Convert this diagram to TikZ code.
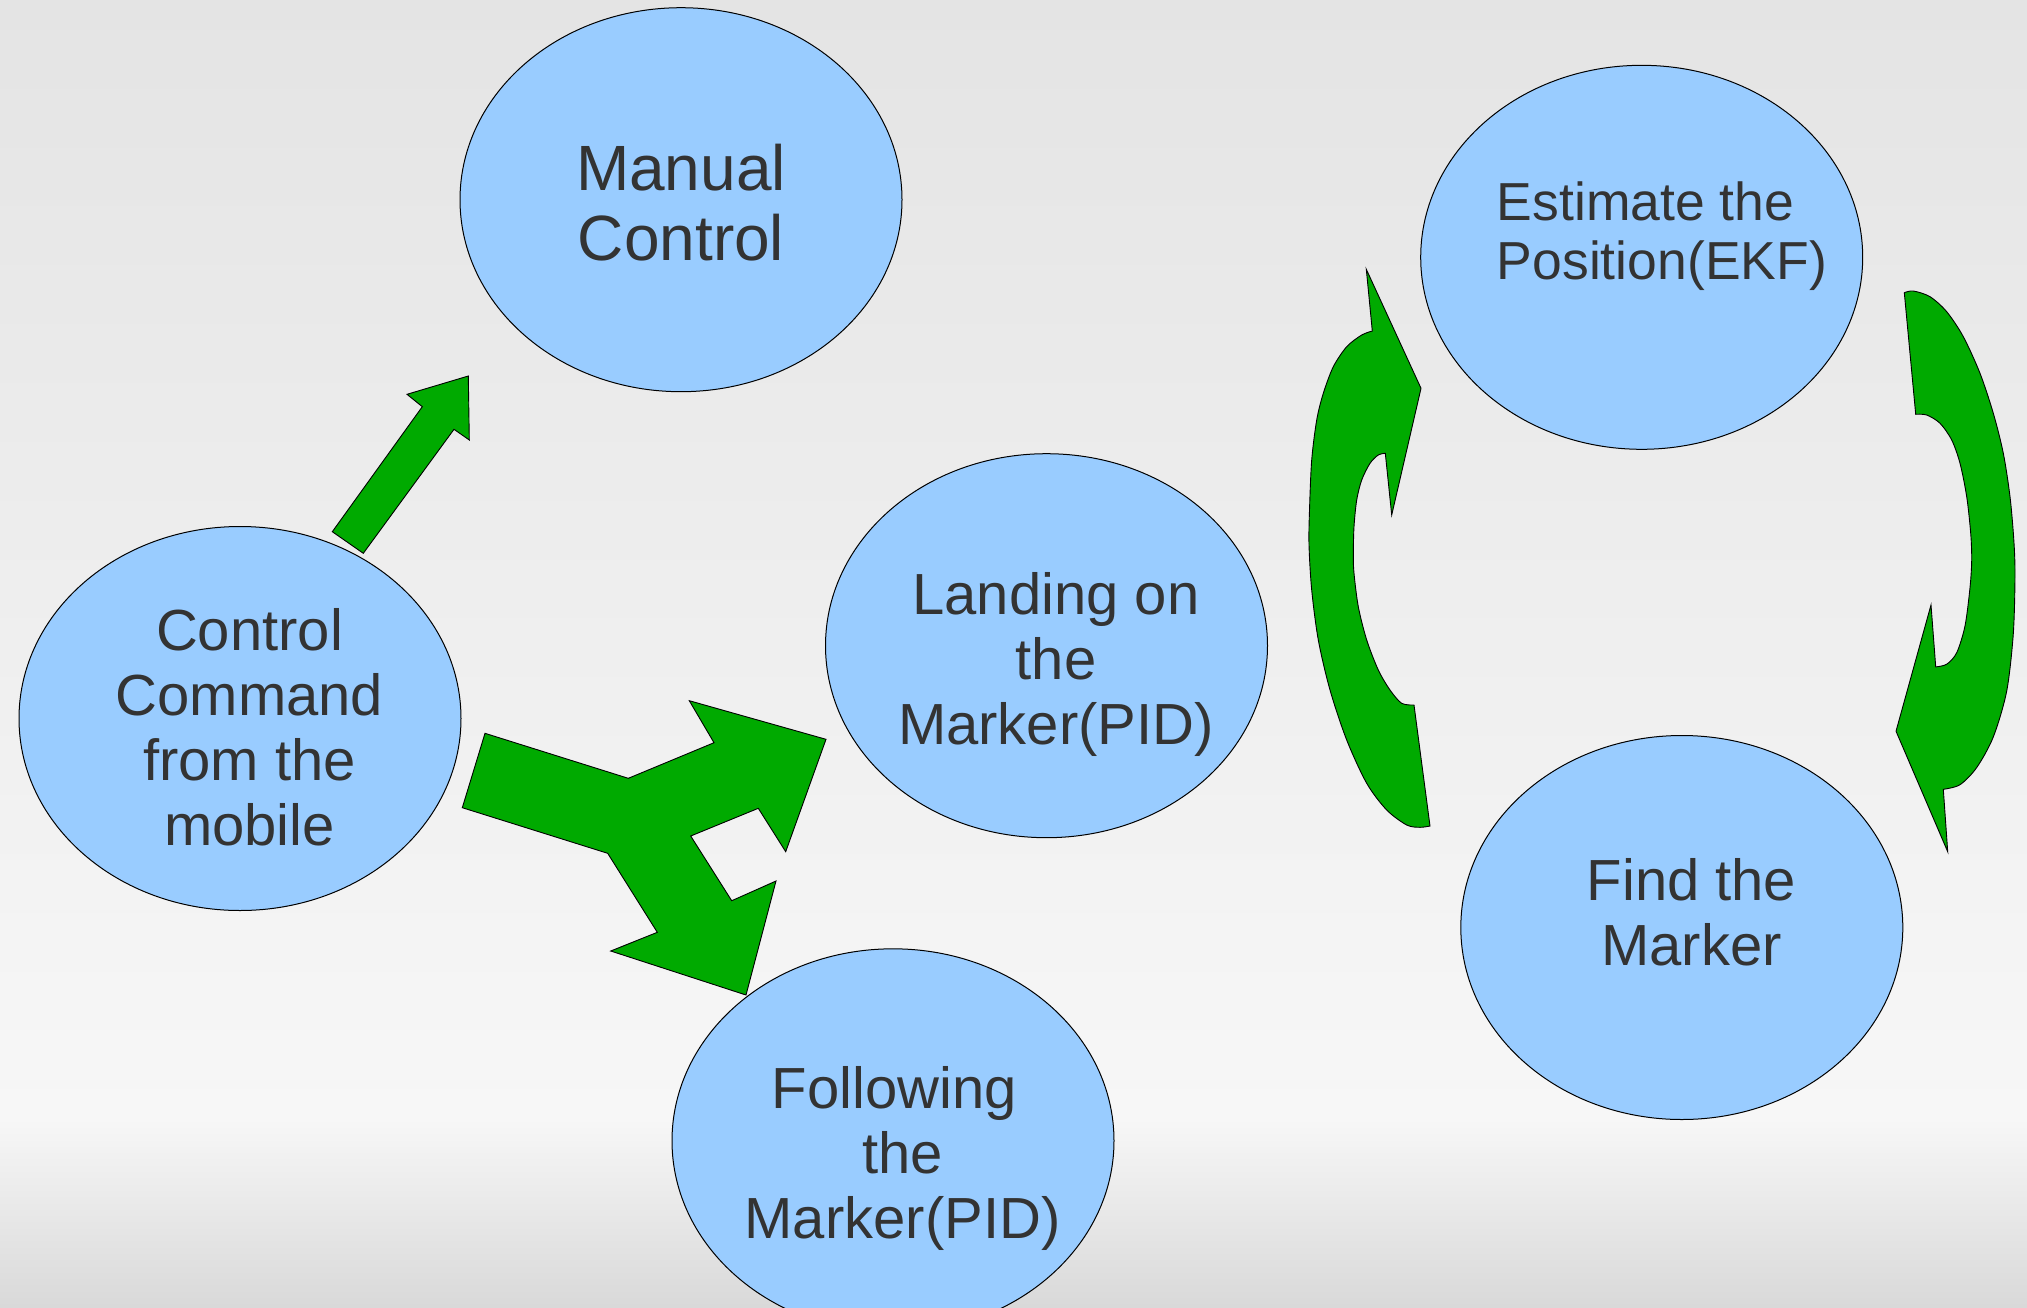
\documentclass[tikz,border=0pt]{standalone}
\usepackage{fontspec}
\setmainfont{Liberation Sans}
\usetikzlibrary{shapes.geometric,calc}
\definecolor{bubble}{HTML}{99CCFF}
\definecolor{flow}{HTML}{00AA00}
\definecolor{ink}{HTML}{333333}
\definecolor{bgtop}{HTML}{E4E4E4}
\definecolor{bgmid}{HTML}{F7F7F7}
\definecolor{bgbot}{HTML}{D9D9D9}
\begin{document}
\begin{tikzpicture}[x=1pt,y=-1pt,
  stage/.style={ellipse, draw=black, line width=1pt, fill=bubble,
    minimum width=442pt, minimum height=384pt, inner sep=0pt},
  lbl/.style={text=ink, align=center, inner sep=0pt,
    font=\fontsize{58}{65}\selectfont},
  blockarrow/.style={fill=flow, draw=black, line width=0.9pt, line join=miter}]
\useasboundingbox (0,0) rectangle (2027,1307);

% background
\shade[top color=bgtop, bottom color=bgmid] (0,0) rectangle (2027,1118);
\shade[top color=bgmid, bottom color=bgbot] (0,1118) rectangle (2027,1307);

% stages
\node[stage] (manual)    at (681,199.7)   {};
\node[stage] (command)   at (240,718.5)   {};
\node[stage] (landing)   at (1046.5,645.7){};
\node[stage] (following) at (893,1140.8)  {};
\node[stage] (estimate)  at (1641.7,257.3){};
\node[stage] (find)      at (1681.8,927.5){};

% labels
\node[lbl, font=\fontsize{64}{70}\selectfont] (manuallbl) at ($(manual)+(0,3.3)$) {Manual\\Control};
\node[lbl] (commandlbl) at ($(command)+(9.5,8.5)$) {Control\\Command\\from the\\mobile};
\node[lbl] (landinglbl) at ($(landing)+(9.5,18.3)$) {Landing on\\the\\Marker(PID)};
\node[lbl] (followinglbl) at ($(following)+(9.5,17.7)$) {Following\kern0.278em\\the\\Marker(PID)};
\node[lbl, align=left, anchor=west, font=\fontsize{53.5}{59}\selectfont] (estimatelbl)
  at ($(estimate)+(-145,-21.3)$) {Estimate the\\Position(EKF)};
\node[lbl] (findlbl) at ($(find)+(9.7,-15.5)$) {Find the\\Marker};

% straight arrow towards manual control
\filldraw[blockarrow] (332.3,531.7) -- (363.3,553.3) -- (454,429.3) -- (469.3,440)
  -- (468.3,376) -- (407,394.3) -- (422.3,406.7) -- cycle;

% split arrow towards landing and following
\filldraw[blockarrow] (485,733.3) -- (628.3,778.3) -- (714,742.7) -- (689.3,700.7)
  -- (826,739.3) -- (785.7,851.7) -- (758.3,808.3) -- (690.7,836) -- (731.7,900.7)
  -- (776,881) -- (746,995) -- (610.7,951) -- (657.3,932.3) -- (607.7,853.3)
  -- (462.3,807.7) -- cycle;

% curved arrow going up on the left of the loop
\filldraw[blockarrow] (1366.3,269.3) -- (1421,388.3) -- (1391.7,515)
  -- plot[smooth] coordinates {(1385.3,453.3) (1378.3,455) (1370,463.3)
     (1361.7,480) (1356.7,500) (1354,526.7) (1353.3,555) (1354,573.3)
     (1358.3,606.7) (1366.7,640) (1378.3,670) (1390,690) (1401.7,703.3)
     (1414,705)}
  -- plot[smooth] coordinates {(1430,826) (1420,827.3) (1406.7,825)
     (1386.7,810) (1366.7,783.3) (1346.7,740) (1330,690) (1318.3,640)
     (1311.7,590) (1309,545) (1309.5,510) (1311.7,460) (1316.7,420)
     (1323.3,393.3) (1333.3,366.7) (1346.7,346.7) (1361.7,335) (1372.3,331)}
  -- cycle;

% curved arrow going down on the right of the loop
\filldraw[blockarrow] plot[smooth] coordinates {(1904.3,292.7) (1913.3,291)
     (1930,296.7) (1946.7,311.7) (1963.3,336.7) (1980,373.3) (1993.3,413.3)
     (2003.3,453.3) (2010,496.7) (2013.8,540) (2015,575) (2013.3,633.6)
     (2006.7,691) (1993.3,736.9) (1976.7,767.5) (1960,784.7) (1943.3,789.3)}
  -- (1947.7,851.7) -- (1896,731.2) -- (1931,604.9)
  -- plot[smooth] coordinates {(1935.7,666.9) (1946.7,664.2) (1956.7,652.7)
     (1965,625.9) (1970,587.6) (1971.7,560) (1970.7,533.3) (1966.7,496.7)
     (1960,463.3) (1951.7,440) (1940,423.3) (1926.7,415) (1915.7,414.3)}
  -- cycle;
\end{tikzpicture}
\end{document}
